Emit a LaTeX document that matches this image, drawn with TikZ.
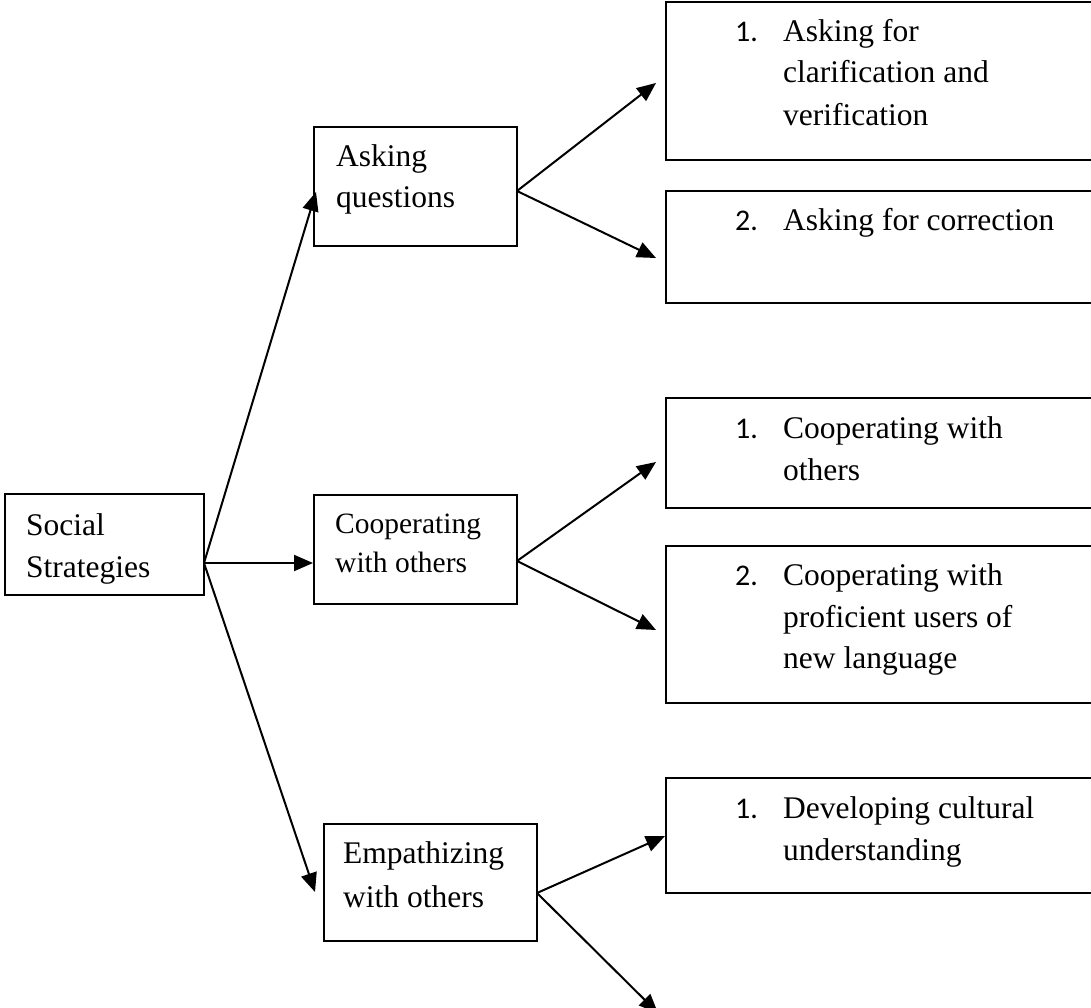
\documentclass[tikz,border=0pt]{standalone}
\usepackage{fontspec}
\setmainfont{Liberation Serif}
\newfontfamily\numfont{Carlito}
\usetikzlibrary{arrows.meta}
\begin{document}
\begin{tikzpicture}[x=1pt,y=-1pt,
  box/.style={draw, line width=1.4pt, rectangle, inner sep=0pt, outer sep=0pt},
  lbl/.style={anchor=base west, inner sep=0pt, font=\fontsize{31.5}{42}\selectfont},
  lblsmall/.style={anchor=base west, inner sep=0pt, font=\fontsize{29.5}{40}\selectfont},
  num/.style={anchor=base west, inner sep=0pt, font=\numfont\fontsize{30}{42}\selectfont},
  link/.style={line width=2pt, -{Triangle[length=19pt,width=16pt]}}]
\clip (0,0) rectangle (1091,1008);
\fill[white] (0,0) rectangle (1091,1008);

% root and category boxes
\node[box, minimum width=199, minimum height=101] (soc) at (104.5,544.5) {};
\node[box, minimum width=203, minimum height=119] (ask) at (415.5,186.5) {};
\node[box, minimum width=203, minimum height=109] (coop) at (415.5,549.5) {};
\node[box, minimum width=213, minimum height=117] (emp) at (430.5,882.5) {};

% strategy boxes (running off the right edge)
\node[box, minimum width=534, minimum height=158] (r1) at (933,81) {};
\node[box, minimum width=534, minimum height=112] (r2) at (933,247) {};
\node[box, minimum width=534, minimum height=110] (r3) at (933,453) {};
\node[box, minimum width=534, minimum height=157] (r4) at (933,624.5) {};
\node[box, minimum width=534, minimum height=115] (r5) at (933,835.5) {};

% texts
\node[lbl] (socA) at (26,535) {Social};
\node[lbl] (socB) at (26,577) {Strategies};
\node[lbl] (askA) at (336,167) {Asking};
\node[lbl] (askB) at (336,208) {questions};
\node[lblsmall] (coopA) at (335,533) {Cooperating};
\node[lblsmall] (coopB) at (335,572) {with others};
\node[lbl] (empA) at (343,863) {Empathizing};
\node[lbl] (empB) at (343,907) {with others};

\node[num] (n1) at (735,42) {1.};
\node[lbl] (r1a) at (783,42) {Asking for};
\node[lbl] (r1b) at (783,83) {clarification and};
\node[lbl] (r1c) at (783,126) {verification};

\node[num] (n2) at (735,230) {2.};
\node[lbl] (r2a) at (783,230) {Asking for correction};

\node[num] (n3) at (735,438) {1.};
\node[lbl] (r3a) at (783,438) {Cooperating with};
\node[lbl] (r3b) at (783,480) {others};

\node[num] (n4) at (735,585) {2.};
\node[lbl] (r4a) at (783,585) {Cooperating with};
\node[lbl] (r4b) at (783,627) {proficient users of};
\node[lbl] (r4c) at (783,668) {new language};

\node[num] (n5) at (735,818) {1.};
\node[lbl] (r5a) at (783,818) {Developing cultural};
\node[lbl] (r5b) at (783,860) {understanding};

% fork points and arrow ends
\coordinate (socout) at (204,563);
\coordinate (askin) at (316,192);
\coordinate (coopin) at (313,563);
\coordinate (empin) at (315,892);
\coordinate (askout) at (517,191);
\coordinate (coopout) at (517,561);
\coordinate (empout) at (537,893);
\coordinate (r1in) at (656,83);
\coordinate (r2in) at (656,258);
\coordinate (r3in) at (656,462);
\coordinate (r4in) at (656,630);
\coordinate (r5in) at (665,836);
\coordinate (r6in) at (658,1013);

% connectors
\draw[link] (socout) -- (askin);
\draw[link] (socout) -- (coopin);
\draw[link] (socout) -- (empin);
\draw[link] (askout) -- (r1in);
\draw[link] (askout) -- (r2in);
\draw[link] (coopout) -- (r3in);
\draw[link] (coopout) -- (r4in);
\draw[link] (empout) -- (r5in);
\draw[link] (empout) -- (r6in);
\end{tikzpicture}
\end{document}
